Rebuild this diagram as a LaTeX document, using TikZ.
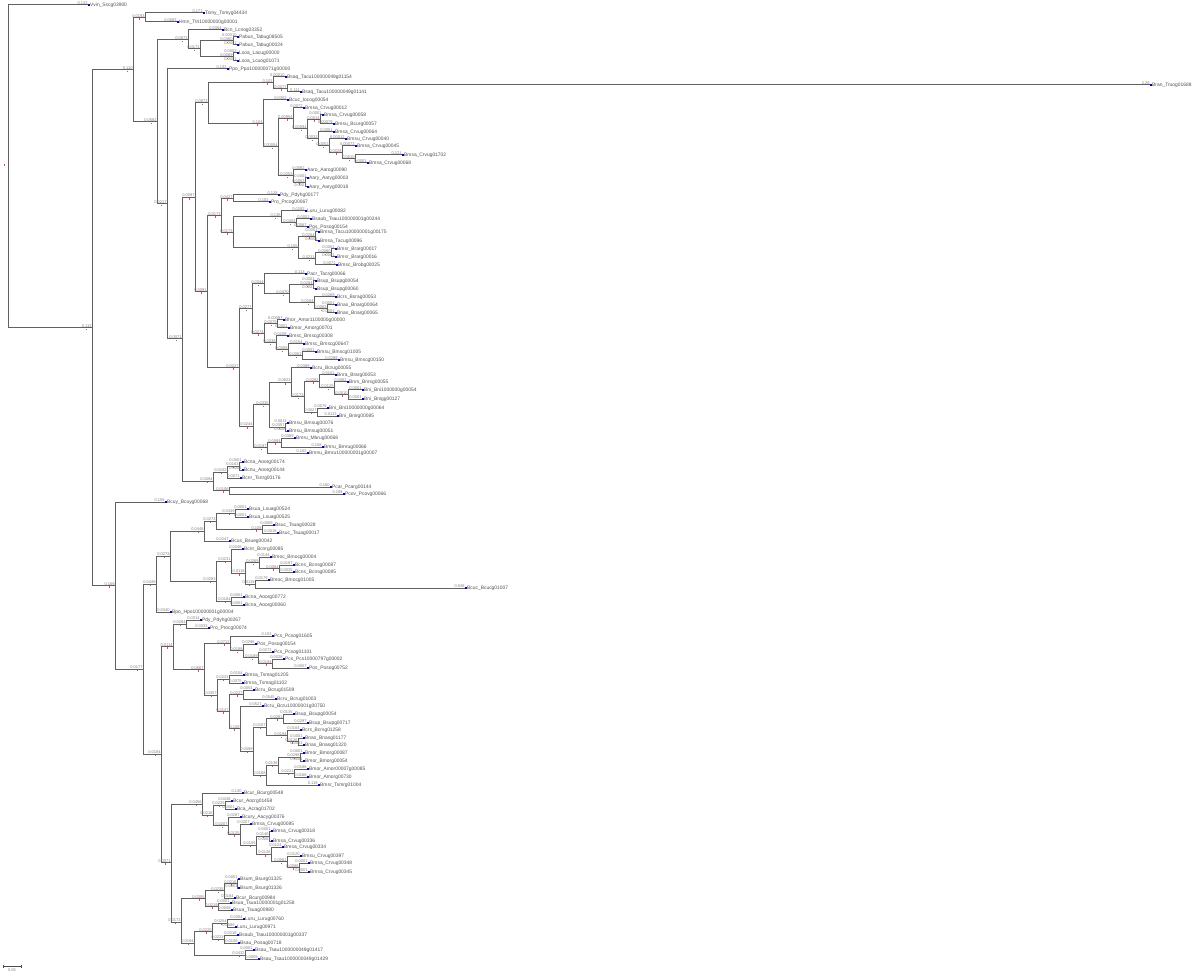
\documentclass[tikz,border=0pt]{standalone}
\usepackage{fontspec}
\setmainfont{Liberation Sans}
\usetikzlibrary{calc}
\tikzset{
  br/.style={draw=black!62, line width=1pt},
  bl/.style={anchor=south east, inner sep=0.2pt, font=\fontsize{4}{4}\selectfont, text=black!50},
  lname/.style={anchor=west, inner sep=0pt, font=\fontsize{4.9}{4.9}\selectfont, text=black!68},
}
\newcommand\nd[5]{%
  \coordinate (#1) at (#3,#4);
  \draw[br] (#2) |- (#1);
  \node[bl] (#1-b) at (#1) {#5};
  \fill[red!75] ($(#1)+(-6,0.8)$) rectangle ++(0.7,1.6);}
\newcommand\lf[6]{%
  \coordinate (#1) at (#3,#4);
  \draw[br] (#2) |- (#1);
  \node[bl] (#1-b) at (#1) {#5};
  \fill[blue!75!black] ($(#1)+(0.3,-0.7)$) rectangle ++(1.3,1.4);
  \node[lname] (#1-n) at ($(#1)+(2,0)$) {#6};}
\begin{document}
\begin{tikzpicture}[x=1pt,y=-1pt]
\fill[white] (0,0) rectangle (1200,976);
\useasboundingbox (0,0) rectangle (1200,976);
\coordinate (root) at (8,166);
\fill[red!75] (4,164) rectangle ++(0.8,2);
\lf{l1}{root}{88}{5}{0.132}{Vvin\_Sscg03900}
\nd{A}{root}{92}{327.75}{0.112}
\nd{B}{A}{133}{70}{0.110}
\nd{B1}{B}{145}{17.5}{0.0193}
\lf{l2}{B1}{203}{13}{0.171}{Tsmy\_Tsmyg04434}
\lf{l3}{B1}{177}{22}{0.0083}{Hmn\_Ttri10000000g00001}
\nd{C}{B}{157}{122}{0.0582}
\nd{D}{C}{188}{40}{0.0873}
\lf{l4}{D}{222}{30}{0.0304}{Bcn\_Lcnog03352}
\nd{E}{D}{200}{49}{0.0171}
\nd{F}{E}{233}{41}{0.0360}
\lf{l5}{F}{237}{37}{0.00010}{Pabus\_Tabug08505}
\lf{l6}{F}{237}{45}{0.0001}{Pabus\_Tabug00024}
\nd{G}{E}{233}{57}{0.0069}
\lf{l7}{G}{237}{53}{0.0002}{Lsoa\_Lacug00000}
\lf{l8}{G}{237}{61}{0.0001}{Lsoa\_Lcuog01071}
\nd{H}{C}{167}{204}{0.0217}
\lf{l9}{H}{227}{69}{0.132}{Ppo\_Ppo100000071g00000}
\nd{I}{H}{182}{339}{0.0071}
\nd{J}{I}{195}{197.25}{0.0097}
\nd{N}{J}{208}{103}{0.0873}
\nd{Ln}{N}{273}{82.7}{0.101}
\lf{l10}{Ln}{285}{77}{0.00010}{Bsaq\_Tacu100000049g01154}
\nd{M}{Ln}{287}{88.5}{0.0077}
\lf{l11}{M}{1150}{85}{2.26}{Bran\_Truog01688}
\lf{l12}{M}{300}{92}{0.111}{Bsaq\_Tacu100000049g01141}
\nd{O}{N}{263}{123.5}{0.104}
\lf{l13}{O}{287}{100}{0.0302}{Bcuc\_Iocog00054}
\nd{P}{O}{278}{147}{0.00054}
\nd{Q}{P}{293}{118.5}{0.00954}
\lf{l14}{Q}{303}{108}{0.0072}{Bmsa\_Crvug00012}
\nd{S}{Q}{307}{129}{0.00094}
\nd{T}{S}{320}{119.5}{0.0014}
\lf{l15}{T}{322}{115}{0.0001}{Bmsa\_Crvug00058}
\lf{l16}{T}{333}{124}{0.00079}{Bmsu\_Bcurg00057}
\nd{U}{S}{318}{139}{0.0032}
\lf{l17}{U}{333}{132}{0.0001}{Bmsa\_Crvug00064}
\nd{V}{U}{329}{145.8}{0.0052}
\lf{l18}{V}{345}{139}{0.00012}{Bmsu\_Crvug00040}
\nd{W}{V}{342}{152.5}{0.0028}
\lf{l19}{W}{355}{146}{0.00073}{Bmsa\_Crvug00045}
\nd{X}{W}{355}{159}{0.0010}
\lf{l20}{X}{402}{155}{0.121}{Bmsa\_Crvug01702}
\lf{l21}{X}{367}{163}{0.0001}{Bmsa\_Crvug00068}
\nd{R}{P}{293}{176}{0.0253}
\lf{l22}{R}{305}{170}{0.0082}{Aaro\_Aarog00090}
\nd{Y}{R}{305}{182.5}{0.0063}
\lf{l23}{Y}{307}{178}{0.0001}{Aary\_Aaryg00003}
\lf{l24}{Y}{307}{187}{0.0001}{Aary\_Aaryg00018}
\nd{Z}{J}{207}{291.5}{0.0091}
\nd{AA}{Z}{221}{215.5}{0.0173}
\nd{AB}{AA}{233}{198.5}{0.0427}
\lf{l25}{AB}{278}{195}{0.128}{Pdy\_Pdyhg00177}
\lf{l26}{AB}{269}{202}{0.102}{Pro\_Prcog00067}
\nd{AC}{AA}{233}{232.5}{0.0173}
\nd{AD}{AC}{281}{217}{0.136}
\lf{l27}{AD}{305}{211}{0.0292}{Luru\_Lurug00082}
\nd{AE}{AD}{296}{223}{0.0404}
\lf{l28}{AE}{310}{219}{0.0001}{Bsaub\_Tsau100000001g00244}
\lf{l29}{AE}{307}{227}{0.0067}{Pos\_Posog00154}
\nd{AF}{AC}{298}{248}{0.155}
\nd{AG}{AF}{315}{236.5}{0.0204}
\lf{l30}{AG}{318}{232}{0.0001}{Bmsa\_Tacu100000001g00175}
\lf{l31}{AG}{318}{241}{0.0002}{Bmsa\_Tacug00096}
\nd{AH}{AF}{315}{259}{0.0211}
\nd{AI}{AH}{331}{253}{0.0080}
\lf{l32}{AI}{335}{249}{0.0001}{Bmsr\_Brarg00017}
\lf{l33}{AI}{335}{257}{0.0001}{Bmsr\_Brarg00016}
\lf{l34}{AH}{336}{265}{0.0071}{Bmsc\_Brobg00025}
\nd{BA}{Z}{239}{367.5}{0.0227}
\nd{BB}{BA}{252}{308.75}{0.0277}
\nd{BC}{BB}{264}{284}{0.0344}
\lf{l35}{BC}{305}{274}{0.113}{Pacr\_Tacrg00066}
\nd{BD}{BC}{289}{294}{0.0470}
\nd{BE}{BD}{313}{285}{0.0284}
\lf{l36}{BE}{315}{281}{0.0001}{Bsup\_Bsupg00054}
\lf{l37}{BE}{315}{289}{0.0001}{Bsup\_Bsupg00060}
\nd{BF}{BD}{314}{303}{0.0284}
\lf{l38}{BF}{335}{297}{0.0269}{Bcrs\_Bsrag00053}
\nd{BG}{BF}{327}{309}{0.0063}
\lf{l39}{BG}{335}{305}{0.0001}{Bnas\_Bnarg00064}
\lf{l40}{BG}{335}{313}{0.0001}{Bnas\_Bnarg00065}
\nd{BH}{BB}{264}{333.5}{0.0274}
\nd{BI}{BH}{277}{324}{0.0079}
\lf{l41}{BI}{283}{320}{0.00097}{Bhor\_Amor1100000g00000}
\lf{l42}{BI}{288}{328}{0.0001}{Bmor\_Amorg00701}
\nd{BJ}{BH}{276}{343}{0.0038}
\lf{l43}{BJ}{287}{336}{0.0108}{Bmsc\_Bmscg00308}
\nd{BK}{BJ}{288}{350}{0.0058}
\lf{l44}{BK}{303}{344}{0.0154}{Bmsc\_Bmscg00647}
\nd{BL}{BK}{302}{356}{0.0061}
\lf{l45}{BL}{315}{352}{0.0001}{Bmsu\_Bmscg01005}
\lf{l46}{BL}{338}{360}{0.0289}{Bmsu\_Bmscg00150}
\nd{BM}{BA}{253}{426.25}{0.0244}
\nd{BMa}{BM}{269}{404.7}{0.0335}
\nd{BMb}{BMa}{291}{382.4}{0.0623}
\lf{l47}{BMb}{310}{368}{0.0389}{Bcru\_Bcrug00055}
\nd{BMc}{BMb}{304}{396.75}{0.0173}
\nd{BMd}{BMc}{319}{381.5}{0.0282}
\lf{l48}{BMd}{335}{375}{0.0101}{Bnra\_Brarg00053}
\nd{BMe}{BMd}{334}{388}{0.0125}
\lf{l49}{BMe}{347}{382}{0.0082}{Bnrs\_Bnrsg00055}
\nd{BMf}{BMe}{348}{394.5}{0.0010}
\lf{l50}{BMf}{362}{390}{0.0001}{Bni\_Bni1000000g00054}
\lf{l51}{BMf}{362}{399}{0.0001}{Bni\_Bnigg00127}
\nd{BMg}{BMc}{317}{412}{0.0027}
\lf{l52}{BMg}{327}{408}{0.0076}{Bni\_Bni10000000g00064}
\lf{l53}{BMg}{337}{416}{0.0113}{Bni\_Bnirg00085}
\nd{BMh}{BMa}{285}{427}{0.0357}
\lf{l54}{BMh}{287}{423}{0.0011}{Bmsu\_Bmsug00076}
\lf{l55}{BMh}{287}{431}{0.0006}{Bmsu\_Bmsug00051}
\nd{BN}{BM}{267}{447.8}{0.0197}
\nd{BO}{BN}{281}{442.5}{0.0094}
\lf{l56}{BO}{294}{438}{0.0389}{Bmru\_Mbrug00068}
\lf{l57}{BO}{322}{447}{0.108}{Bmru\_Bmrug00066}
\lf{l58}{BN}{307}{453}{0.102}{Bmnu\_Bmru100000001g00007}
\nd{K}{I}{213}{481}{0.0094}
\nd{KA}{K}{227}{472}{0.0102}
\nd{KB}{KA}{239}{466}{0.0163}
\lf{l59}{KB}{242}{462}{0.0001}{Bcna\_Aoorg00174}
\lf{l60}{KB}{242}{470}{0.0001}{Bcnu\_Aoorg00144}
\lf{l61}{KA}{240}{478}{0.0071}{Bcnr\_Tsnrg00176}
\nd{KC}{K}{229}{490.5}{0.0106}
\lf{l62}{KC}{330}{487}{0.160}{Pcar\_Pcarg00144}
\lf{l63}{KC}{343}{494}{0.188}{Pcov\_Pcovg00066}
\nd{AA2}{A}{115}{585.5}{0.169}
\lf{l64}{AA2}{165}{502}{0.156}{Bcuy\_Bcuyg00068}
\nd{CA}{AA2}{143}{669}{0.0177}
\nd{CB}{CA}{156}{584}{0.0449}
\nd{CC}{CB}{170}{556}{0.0273}
\nd{CD}{CC}{204}{531}{0.0448}
\nd{CE}{CD}{216}{521}{0.0273}
\nd{CF}{CE}{235}{513}{0.0439}
\lf{l65}{CF}{247}{509}{0.0001}{Bsua\_Lsuag00524}
\lf{l66}{CF}{247}{517}{0.0001}{Bsua\_Lsuag00525}
\nd{CG}{CE}{262}{529.5}{0.108}
\lf{l67}{CG}{273}{525}{0.0069}{Bsuc\_Tsuag00028}
\lf{l68}{CG}{277}{533}{0.0018}{Bsuc\_Tsuag00017}
\lf{l69}{CD}{229}{541}{0.0247}{Bcus\_Bsueg00042}
\nd{CH}{CC}{216}{581}{0.0283}
\nd{CI}{CH}{231}{561}{0.0231}
\lf{l70}{CI}{242}{549}{0.0246}{Bcnr\_Bcnrg00085}
\nd{CK}{CI}{245}{573.4}{0.0118}
\nd{CL}{CK}{259}{562.75}{0.0269}
\lf{l71}{CL}{270}{557}{0.0144}{Bmoc\_Bmocg00004}
\nd{CM}{CL}{279}{568.5}{0.0084}
\lf{l72}{CM}{293}{565}{0.0187}{Bcns\_Bcnsg00087}
\lf{l73}{CM}{293}{572}{0.0035}{Bcns\_Bcnsg00085}
\nd{CJ}{CK}{255}{584}{0.0119}
\lf{l74}{CJ}{268}{580}{0.0179}{Bmoc\_Bmocg01005}
\lf{l75}{CJ}{465}{588}{0.538}{Bcuc\_Bcucg01007}
\nd{CN}{CH}{231}{601}{0.0184}
\lf{l76}{CN}{243}{597}{0.0001}{Bcna\_Aoorg00772}
\lf{l77}{CN}{243}{605}{0.0001}{Bcna\_Aoorg00060}
\lf{l78}{CB}{170}{612}{0.0340}{Bpo\_Hpo100000001g00004}
\nd{DA}{CA}{161}{754}{0.0184}
\nd{DB}{DA}{173}{646.5}{0.0114}
\nd{DC}{DB}{186}{624}{0.0294}
\lf{l79}{DC}{200}{620}{0.0314}{Pdy\_Pdyhg00267}
\lf{l80}{DC}{208}{628}{0.0333}{Pro\_Procg00074}
\nd{DD}{DB}{204}{669.5}{0.0567}
\nd{DE}{DD}{230}{643.5}{0.0712}
\lf{l81}{DE}{272}{636}{0.103}{Pcs\_Pcsog01605}
\nd{DF}{DE}{243}{650.9}{0.0188}
\lf{l82}{DF}{255}{644}{0.0296}{Pos\_Posog00154}
\nd{DG}{DF}{258}{657.75}{0.0189}
\lf{l83}{DG}{272}{652}{0.0272}{Pcs\_Pcsog01101}
\nd{DH}{DG}{272}{663.5}{0.0194}
\lf{l84}{DH}{283}{659}{0.0028}{Pcs\_Pcs10000797g00002}
\lf{l85}{DH}{307}{668}{0.0507}{Pos\_Posog00752}
\nd{DI}{DD}{217}{695}{0.0357}
\nd{DJ}{DI}{229}{679}{0.0233}
\lf{l86}{DJ}{243}{675}{0.0154}{Bmsa\_Tsmag01205}
\lf{l87}{DJ}{242}{683}{0.0075}{Bmsa\_Tsmag01102}
\nd{DK}{DI}{229}{711.5}{0.0147}
\nd{DL}{DK}{243}{694.5}{0.0227}
\lf{l88}{DL}{253}{690}{0.0054}{Bcru\_Bcrug01509}
\lf{l89}{DL}{275}{699}{0.0545}{Bcru\_Bcrug01003}
\nd{DM}{DK}{240}{728.5}{0.108}
\lf{l90}{DM}{262}{706}{0.0521}{Bcru\_Bcru10000001g00750}
\nd{DN}{DM}{253}{751}{0.0099}
\nd{DO}{DN}{266}{727}{0.0187}
\nd{DP}{DO}{283}{718.5}{0.0281}
\lf{l91}{DP}{293}{714}{0.0135}{Bsup\_Bsupg00054}
\lf{l92}{DP}{307}{723}{0.0297}{Bsup\_Bsupg00717}
\nd{DQ}{DO}{287}{735.75}{0.0194}
\lf{l93}{DQ}{300}{730}{0.0104}{Bcrs\_Bcrsg01258}
\nd{DR}{DQ}{298}{741.5}{0.0126}
\lf{l94}{DR}{303}{738}{0.0001}{Bnas\_Bnasg01177}
\lf{l95}{DR}{303}{745}{0.0001}{Bnas\_Bnasg01320}
\nd{DS}{DN}{266}{775}{0.0168}
\nd{DT}{DS}{278}{765}{0.0136}
\nd{DU}{DT}{300}{757}{0.0298}
\lf{l96}{DU}{303}{753}{0.0001}{Bmor\_Bmorg00087}
\lf{l97}{DU}{303}{761}{0.0001}{Bmor\_Bmorg00054}
\nd{DV}{DT}{294}{773}{0.0221}
\lf{l98}{DV}{307}{769}{0.0188}{Bmor\_Amor00007g00085}
\lf{l99}{DV}{307}{777}{0.0168}{Bmor\_Amorg00730}
\lf{l100}{DS}{318}{785}{0.118}{Bmsr\_Tsmrg01004}
\nd{EA}{DA}{171}{862.5}{0.0071}
\nd{EB}{EA}{202}{804}{0.0456}
\lf{l101}{EB}{242}{793}{0.130}{Bcur\_Bcurg00548}
\nd{EC}{EB}{213}{815}{0.0216}
\nd{ED}{EC}{225}{805}{0.0225}
\lf{l102}{ED}{231}{801}{0.0248}{Bcur\_Aocrg01458}
\lf{l103}{ED}{235}{809}{0.0001}{Bca\_Acrag01702}
\nd{EE}{EC}{228}{825.75}{0.0207}
\lf{l104}{EE}{240}{817}{0.0287}{Bcury\_Aacyg00376}
\nd{EF}{EE}{240}{834.5}{0.0125}
\lf{l105}{EF}{250}{824}{0.0207}{Bmsa\_Crvug00085}
\nd{EG}{EF}{256}{845}{0.0105}
\nd{EH}{EG}{269}{836}{0.0146}
\lf{l106}{EH}{271}{831}{0.0001}{Bmsa\_Crvug00318}
\lf{l107}{EH}{271}{841}{0.0001}{Bmsa\_Crvug00336}
\nd{EI}{EG}{271}{854.4}{0.0126}
\lf{l108}{EI}{282}{847}{0.0124}{Bmsa\_Crvug00334}
\nd{EJ}{EI}{287}{861.75}{0.0061}
\lf{l109}{EJ}{300}{856}{0.0120}{Bmsu\_Crvug00397}
\nd{EK}{EJ}{299}{867.5}{0.0086}
\lf{l110}{EK}{308}{863}{0.0001}{Bmsa\_Crvug00348}
\lf{l111}{EK}{308}{872}{0.0001}{Bmsa\_Crvug00345}
\nd{FA}{EA}{181}{922}{0.0172}
\nd{FB}{FA}{205}{898.6}{0.0355}
\nd{FC}{FB}{224}{890.75}{0.0235}
\nd{FD}{FC}{237}{883.5}{0.0216}
\lf{l112}{FD}{238}{879}{0.0001}{Bsum\_Bsurg01325}
\lf{l113}{FD}{238}{888}{0.0001}{Bsum\_Bsurg01326}
\lf{l114}{FC}{234}{898}{0.0184}{Bcur\_Bcurg00984}
\nd{FE}{FB}{218}{906.5}{0.0219}
\lf{l115}{FE}{230}{903}{0.0001}{Bsua\_Tsua10000001g01258}
\lf{l116}{FE}{231}{910}{0.0008}{Bsua\_Tsuag00980}
\nd{FF}{FA}{194}{943}{0.0194}
\nd{FG}{FF}{212}{931.5}{0.0220}
\nd{FH}{FG}{227}{923}{0.0254}
\lf{l117}{FH}{243}{919}{0.0304}{Luru\_Lurug00760}
\lf{l118}{FH}{235}{927}{0.0089}{Luru\_Lurug00971}
\nd{FI}{FG}{224}{939}{0.0223}
\lf{l119}{FI}{237}{935}{0.0218}{Bsaub\_Tsau100000001g00337}
\lf{l120}{FI}{238}{943}{0.0109}{Bsau\_Posag00718}
\nd{FJ}{FF}{245}{955}{0.0432}
\lf{l121}{FJ}{253}{950}{0.0001}{Bsau\_Tsau1000000049g01417}
\lf{l122}{FJ}{258}{959}{0.0009}{Bsau\_Tsau1000000049g01429}
% scale bar
\coordinate (sb1) at (3,966);
\coordinate (sb2) at (21,966);
\draw[black!70, line width=0.6pt] (sb1) -- (sb2);
\draw[black!70, line width=0.6pt] (sb1) ++(0,-1.5) -- ++(0,3);
\draw[black!70, line width=0.6pt] (sb2) ++(0,-1.5) -- ++(0,3);
\node[bl, anchor=north] (sbl) at ($(sb1)!0.5!(sb2)+(0,2)$) {0.05};
\end{tikzpicture}
\end{document}
